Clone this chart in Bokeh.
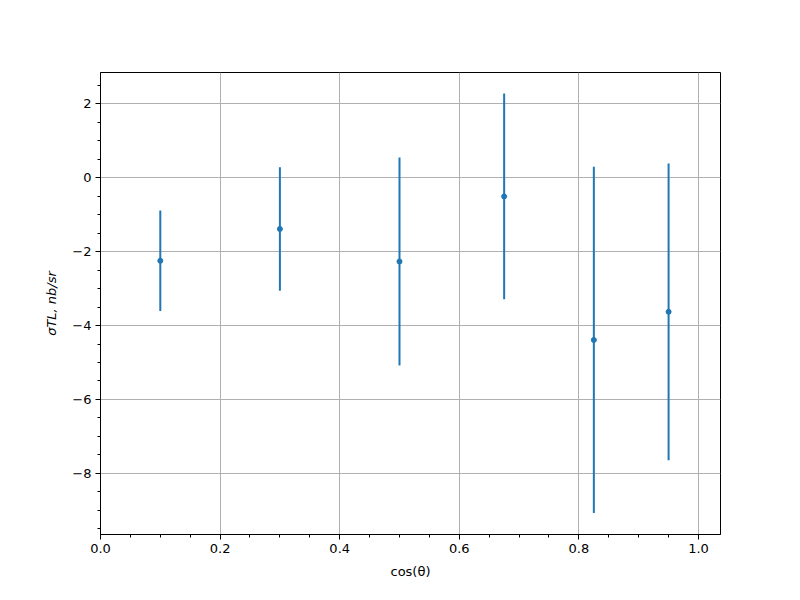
import numpy as np
from bokeh.plotting import figure
from bokeh.models import (ColumnDataSource, FixedTicker, CustomJSTickFormatter, Range1d)
from bokeh.embed import file_html
from bokeh.resources import INLINE

# data
cos_theta = [0.1, 0.3, 0.5, 0.675, 0.825, 0.95]
sigma_tl = [-2.25, -1.39, -2.27, -0.51, -4.39, -3.63]
sigma_err = [1.36, 1.67, 2.81, 2.78, 4.68, 4.01]

x_major = [0.0, 0.2, 0.4, 0.6, 0.8, 1.0]
y_major = [-8, -6, -4, -2, 0, 2]

lo = [v - e for v, e in zip(sigma_tl, sigma_err)]
hi = [v + e for v, e in zip(sigma_tl, sigma_err)]
src = ColumnDataSource(dict(x=cos_theta, y=sigma_tl, lo=lo, hi=hi))

p = figure(width=784, height=584, frame_width=620, frame_height=462,
           min_border_left=100, min_border_top=72, min_border_right=64, min_border_bottom=50,
           output_backend="svg", toolbar_location=None,
           x_range=Range1d(0.0, 1.0368), y_range=Range1d(-9.65, 2.84))
p.background_fill_color = "white"
p.border_fill_color = "white"
p.outline_line_color = "black"
p.outline_line_width = 1
p.outline_line_alpha = 1

p.segment(x0="x", y0="lo", x1="x", y1="hi", source=src, line_color="#1f77b4", line_width=2)
p.scatter(x="x", y="y", source=src, size=5, fill_color="#1f77b4", line_color="#1f77b4")

x_minor = [round(i * 0.05, 2) for i in range(0, 21)]
y_minor = [i * 0.5 for i in range(-19, 6)]
p.xaxis.ticker = FixedTicker(ticks=x_major, minor_ticks=x_minor)
p.yaxis.ticker = FixedTicker(ticks=y_major, minor_ticks=y_minor)
p.xaxis.formatter = CustomJSTickFormatter(code="return tick.toFixed(1);")
p.yaxis.formatter = CustomJSTickFormatter(code="return (tick < 0 ? '\u2212' : '') + Math.abs(tick).toFixed(0);")

for ax in (p.xaxis, p.yaxis):
    ax.major_label_text_font = "DejaVu Sans"
    ax.major_label_text_font_size = "13px"
    ax.major_label_text_color = "black"
    ax.axis_line_color = "black"
    ax.major_tick_line_color = "black"
    ax.minor_tick_line_color = "black"
    ax.major_tick_out = 5
    ax.major_tick_in = 0
    ax.minor_tick_out = 3
    ax.minor_tick_in = 0
    ax.axis_label_text_font = "DejaVu Sans"
    ax.axis_label_text_font_size = "13px"
    ax.axis_label_text_font_style = "normal"
    ax.axis_label_text_color = "black"
p.yaxis.major_label_standoff = 4
p.xaxis.major_label_standoff = 4

p.xaxis.axis_label = "cos(θ)"
p.xaxis.axis_label_standoff = 8
p.yaxis.axis_label = "σTL, nb/sr"
p.yaxis.axis_label_text_font_style = "italic"
p.yaxis.axis_label_standoff = 10

p.xgrid.ticker = FixedTicker(ticks=x_major)
p.ygrid.ticker = FixedTicker(ticks=y_major)
p.grid.grid_line_color = "#b0b0b0"
p.grid.grid_line_width = 1

open("out.html", "w").write(file_html(p, INLINE))
